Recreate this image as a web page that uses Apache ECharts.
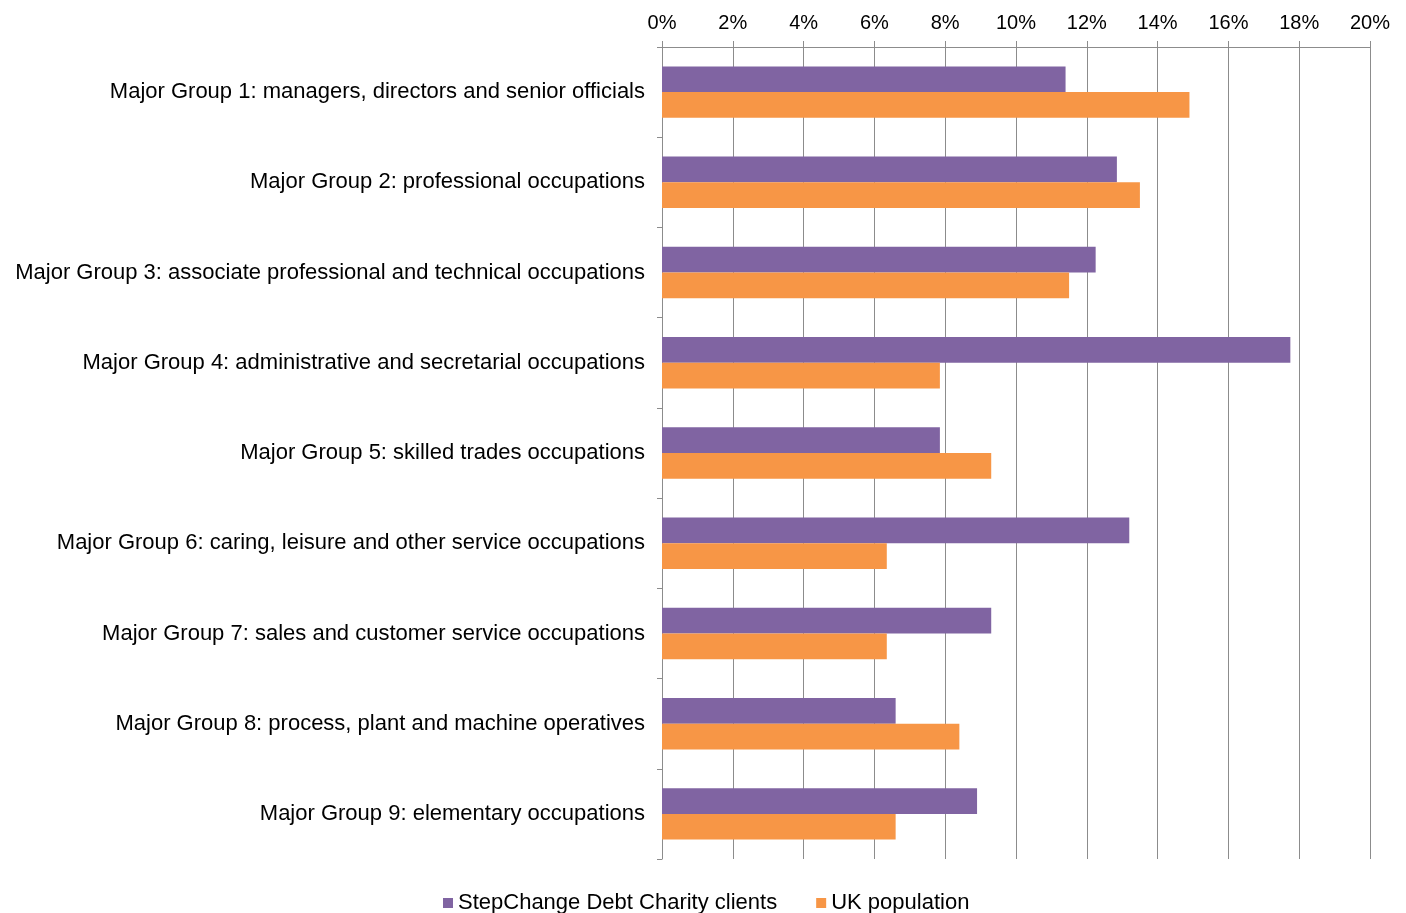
<!DOCTYPE html>
<html>
<head>
<meta charset="utf-8">
<script src="https://cdn.jsdelivr.net/npm/echarts@6/dist/echarts.min.js"></script>
<style>
  html, body {margin: 0; padding: 0; background: #fff;}
  #chart {width: 1406px; height: 913px;}
</style>
</head>
<body>
<div id="chart"></div>
<script>
const categories = [
    'Major Group 1: managers, directors and senior officials',
    'Major Group 2: professional occupations',
    'Major Group 3: associate professional and technical occupations',
    'Major Group 4: administrative and secretarial occupations',
    'Major Group 5: skilled trades occupations',
    'Major Group 6: caring, leisure and other service occupations',
    'Major Group 7: sales and customer service occupations',
    'Major Group 8: process, plant and machine operatives',
    'Major Group 9: elementary occupations'
];
const stepChange = [11.4, 12.85, 12.25, 17.75, 7.85, 13.2, 9.3, 6.6, 8.9];
const ukPopulation = [14.9, 13.5, 11.5, 7.85, 9.3, 6.35, 6.35, 8.4, 6.6];
const seriesNames = ['StepChange Debt Charity clients', 'UK population'];

const chart = echarts.init(document.getElementById('chart'));
const font = 'Liberation Sans, Arial, sans-serif';

chart.setOption({
    animation: false,
    textStyle: {fontFamily: font, color: '#000'},
    grid: {left: 662, right: 36, top: 47, bottom: 54},
    legend: {
        data: seriesNames,
        left: 438,
        top: 887,
        icon: 'rect',
        itemWidth: 10,
        itemHeight: 10,
        itemGap: 39,
        textStyle: {fontSize: 22, color: '#000', fontFamily: font}
    },
    xAxis: {
        type: 'value',
        position: 'top',
        min: 0,
        max: 20,
        interval: 2,
        axisLine: {show: true, lineStyle: {color: '#8c8c8c'}},
        axisTick: {show: true, length: 6, lineStyle: {color: '#8c8c8c'}},
        splitLine: {show: true, lineStyle: {color: '#8c8c8c', width: 1}},
        axisLabel: {fontSize: 20, color: '#000', margin: 14, formatter: '{value}%'}
    },
    yAxis: {
        type: 'category',
        inverse: true,
        data: categories,
        axisLine: {show: true, lineStyle: {color: '#8c8c8c'}},
        axisTick: {show: true, length: 5, lineStyle: {color: '#8c8c8c'}},
        axisLabel: {fontSize: 22, color: '#000', margin: 17}
    },
    series: [
        {
            name: seriesNames[0],
            type: 'bar',
            barGap: 0,
            barCategoryGap: '43%',
            itemStyle: {color: '#8064A2'},
            data: stepChange
        },
        {
            name: seriesNames[1],
            type: 'bar',
            barGap: 0,
            barCategoryGap: '43%',
            itemStyle: {color: '#F79646'},
            data: ukPopulation
        }
    ]
});
</script>
</body>
</html>
